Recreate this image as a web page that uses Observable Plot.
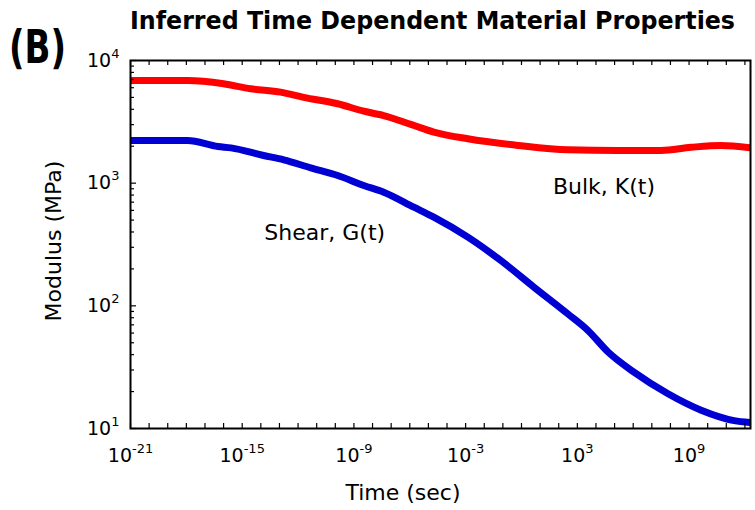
<!DOCTYPE html>
<html>
<head>
<meta charset="utf-8">
<script src="https://cdn.jsdelivr.net/npm/d3@7"></script>
<script src="https://cdn.jsdelivr.net/npm/@observablehq/plot@0.6"></script>
<style>
  html, body { margin: 0; padding: 0; background: #fff; }
  svg { display: block; }
</style>
</head>
<body>
<div id="chart"></div>
<script>
// ---- data (log10 of time in seconds, modulus in MPa) ----
const shearLogTime = [-21, -17.94, -16.3, -15.6, -13.85, -12.77, -11.32, -9.87, -8.47, -7.4, -5.78, -4.71, -2.88, -1.11, 0.67, 2.49, 3.57, 4.65, 6.04, 7.87, 9.65, 11.42, 12.3];
const shearModulus = [2230, 2230, 1990, 1940, 1680, 1550, 1333, 1155, 958, 845, 637, 528, 363, 234, 142, 86, 63, 42, 28.8, 19.2, 14.1, 11.6, 11.2];

const bulkLogTime = [-21, -17.94, -16, -14.55, -12.94, -11.7, -9.87, -8.47, -7.4, -5.9, -4.71, -2.88, -0.19, 2.49, 5.18, 7.49, 9.1, 10.72, 12.3];
const bulkModulus = [6870, 6870, 6460, 5880, 5520, 5010, 4440, 3860, 3560, 3000, 2610, 2300, 2030, 1870, 1850, 1850, 1960, 2030, 1940];

const xTickLabels = [1e-21, 1e-15, 1e-9, 1e-3, 1e3, 1e9];
const yTickLabels = [1e1, 1e2, 1e3, 1e4];
const xMinorTicks = d3.range(-21, 13).map(e => 10 ** e);
const yMinorTicks = d3.range(1, 4).flatMap(e => d3.range(2, 10).map(m => m * 10 ** e));

const annotations = [
  {label: "Shear, G(t)", logTime: -10.57, modulus: 390},
  {label: "Bulk, K(t)", logTime: 4.43, modulus: 923}
];

const titleText = "Inferred Time Dependent Material Properties";
const panelText = "(B)";
const xLabelText = "Time (sec)";
const yLabelText = "Modulus (MPa)";

// ---- build tables ----
const shear = shearLogTime.map((e, i) => ({t: 10 ** e, v: shearModulus[i]}));
const bulk = bulkLogTime.map((e, i) => ({t: 10 ** e, v: bulkModulus[i]}));
const notes = annotations.map(a => ({label: a.label, t: 10 ** a.logTime, v: a.modulus}));

const W = 755, H = 510, mL = 130, mR = 5, mT = 60, mB = 82;
const plotW = W - mL - mR, plotH = H - mT - mB;
const font = "DejaVu Sans, Verdana, sans-serif";

function expLabel(d) {
  return "10^" + Math.round(Math.log10(d));
}

const svg = Plot.plot({
  width: W, height: H,
  marginLeft: mL, marginRight: mR, marginTop: mT, marginBottom: mB,
  style: {fontFamily: font, fontSize: "18px", color: "#000", background: "#fff", overflow: "visible"},
  x: {type: "log", domain: [1e-21, 10 ** 12.3], label: null},
  y: {type: "log", domain: [10, 1e4], label: null},
  marks: [
    Plot.line(bulk, {x: "t", y: "v", stroke: "#ff0000", strokeWidth: 7, curve: "monotone-x", clip: "frame"}),
    Plot.line(shear, {x: "t", y: "v", stroke: "#0000d2", strokeWidth: 7, curve: "monotone-x", clip: "frame"}),
    Plot.tickX(xMinorTicks, {x: d => d, insetTop: plotH - 5, stroke: "#000", strokeWidth: 1.2}),
    Plot.tickX(xMinorTicks, {x: d => d, insetBottom: plotH - 5, stroke: "#000", strokeWidth: 1.2}),
    Plot.tickY(yMinorTicks, {y: d => d, insetRight: plotW - 4, stroke: "#000", strokeWidth: 1.2}),
    Plot.tickY(yTickLabels, {y: d => d, insetRight: plotW - 6, stroke: "#000", strokeWidth: 1.2}),
    Plot.axisX(xTickLabels, {tickSize: 0, tickPadding: 20, tickFormat: expLabel, fontSize: 19, fill: "#000"}),
    Plot.axisY(yTickLabels, {tickSize: 0, tickPadding: 11, tickFormat: expLabel, fontSize: 19, fill: "#000"}),
    Plot.text(notes, {x: "t", y: "v", text: "label", fontSize: 22, fill: "#000"}),
    Plot.frame({stroke: "#000", strokeWidth: 2})
  ]
});

// superscript exponents
d3.select(svg).selectAll('g[aria-label="x-axis tick label"] text, g[aria-label="y-axis tick label"] text').each(function () {
  const s = this.textContent;
  const parts = s.split("^");
  if (parts.length !== 2) return;
  const t = d3.select(this);
  t.text(null);
  t.append("tspan").text(parts[0]);
  t.append("tspan").attr("dy", -9).attr("font-size", 13).text(parts[1]);
});

const root = d3.select(svg);
root.append("text")
  .attr("x", 130).attr("y", 29)
  .attr("text-anchor", "start")
  .attr("font-family", font).attr("font-weight", "bold").attr("font-size", 24)
  .attr("textLength", 605).attr("lengthAdjust", "spacingAndGlyphs")
  .attr("fill", "#000")
  .text(titleText);
root.append("text")
  .attr("x", 9).attr("y", 63)
  .attr("text-anchor", "start")
  .attr("font-family", font).attr("font-weight", "bold").attr("font-size", 46)
  .attr("textLength", 57).attr("lengthAdjust", "spacingAndGlyphs")
  .attr("fill", "#000")
  .text(panelText);
root.append("text")
  .attr("x", 403).attr("y", 500)
  .attr("text-anchor", "middle")
  .attr("font-family", font).attr("font-size", 22)
  .attr("fill", "#000")
  .text(xLabelText);
root.append("text")
  .attr("transform", "translate(61,241) rotate(-90)")
  .attr("text-anchor", "middle")
  .attr("font-family", font).attr("font-size", 22)
  .attr("fill", "#000")
  .text(yLabelText);

document.getElementById("chart").appendChild(svg);
</script>
</body>
</html>
